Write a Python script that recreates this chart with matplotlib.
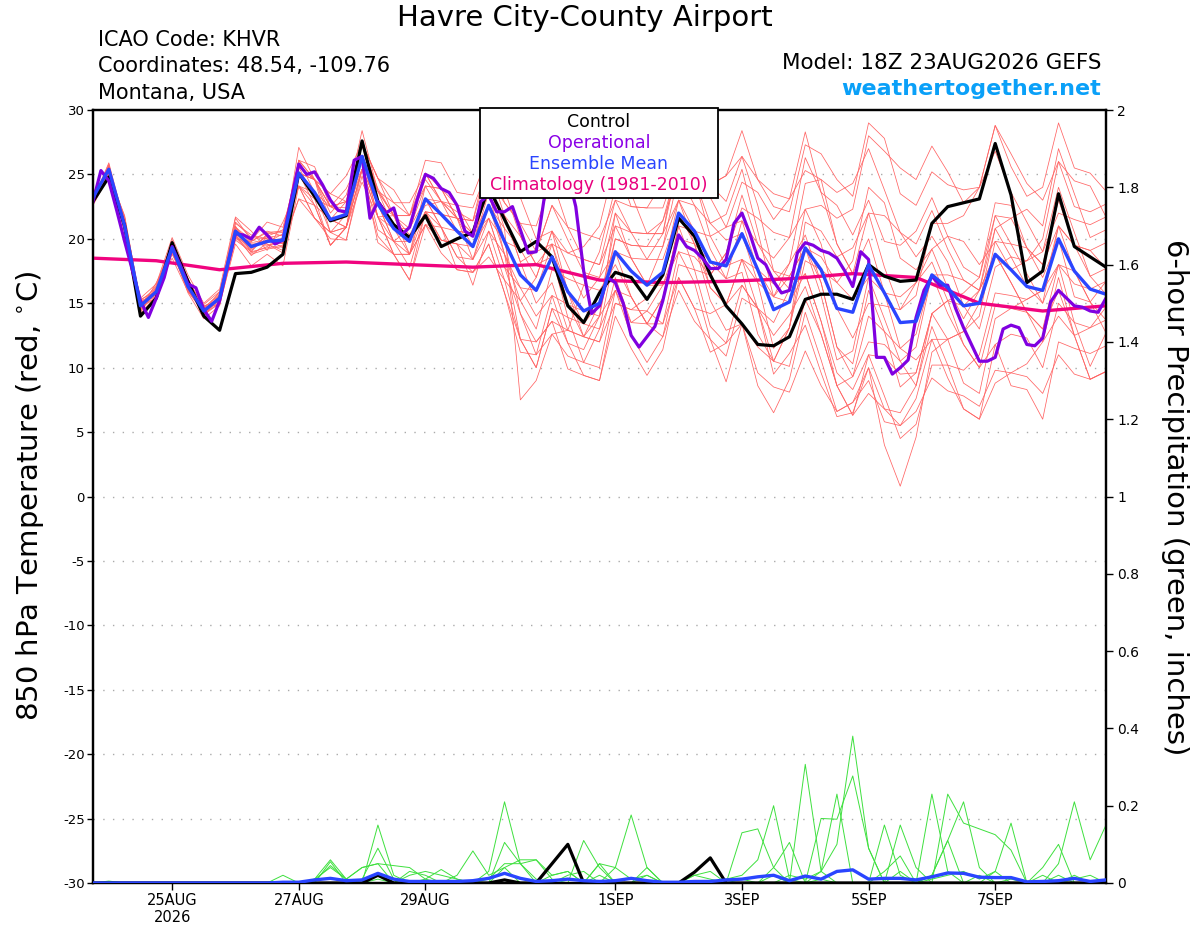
import matplotlib
matplotlib.use('Agg')
import matplotlib.pyplot as plt
import matplotlib.dates as mdates
from matplotlib.patches import Rectangle
import pandas as pd

plt.rcParams['font.family'] = ['DejaVu Sans']

# ---- data ----
run_start = '2026-08-23 18:00'
times = pd.date_range(run_start, periods=65, freq='6h')        # ensemble, 6-hourly
times_op = pd.date_range(run_start, periods=129, freq='3h')    # operational, 3-hourly
times_clim = pd.date_range(run_start, periods=17, freq='24h')  # climatology, daily

control = [22.9, 24.8, 21.0, 14.0, 15.4, 19.7, 16.7, 14.0, 12.9, 17.3, 17.4, 17.8, 18.8,
           25.1, 23.3, 21.4, 21.8, 27.6, 22.9, 21.1, 20.1, 21.8, 19.4, 20.0, 20.5, 24.0,
           21.5, 19.0, 19.8, 18.6, 14.8, 13.5, 15.8, 17.4, 17.0, 15.3, 17.2, 21.6, 20.2,
           17.2, 14.8, 13.4, 11.8, 11.7, 12.4, 15.3, 15.7, 15.7, 15.3, 18.0, 17.1, 16.7,
           16.8, 21.2, 22.5, 22.8, 23.1, 27.4, 23.4, 16.6, 17.5, 23.5, 19.4, 18.6, 17.8]

ens_mean = [23.2, 25.4, 21.0, 14.8, 15.9, 19.3, 16.3, 14.4, 15.4, 20.6, 19.4, 19.8, 19.9,
            25.1, 23.6, 21.5, 21.9, 26.4, 22.7, 20.8, 19.8, 23.1, 21.9, 20.6, 19.4, 22.6,
            19.8, 17.2, 16.0, 18.6, 15.9, 14.4, 15.0, 19.0, 17.5, 16.4, 17.4, 22.0, 20.6,
            18.2, 17.9, 20.4, 17.6, 14.5, 15.1, 19.3, 17.6, 14.6, 14.3, 18.0, 15.8, 13.5,
            13.6, 17.2, 16.2, 14.8, 15.0, 18.8, 17.6, 16.3, 16.0, 20.0, 17.5, 16.1, 15.7]

operational = [22.9, 25.3, 24.5, 22.2, 19.8, 17.5, 15.2, 13.9, 15.4, 17.0, 19.4, 18.0, 16.5,
               16.2, 14.5, 13.6, 15.2, 18.0, 20.4, 20.3, 20.0, 20.9, 20.3, 19.6, 19.9, 22.9,
               25.8, 25.0, 25.2, 24.2, 23.0, 22.2, 22.1, 26.1, 26.4, 21.6, 22.9, 22.0, 22.4,
               20.3, 20.9, 23.1, 25.0, 24.7, 23.9, 23.6, 22.6, 20.6, 20.2, 22.9, 23.4, 22.1,
               22.1, 22.5, 20.7, 18.9, 19.0, 23.1, 25.5, 26.0, 25.0, 22.5, 17.5, 14.2, 14.8,
               17.0, 16.6, 15.0, 12.5, 11.6, 12.4, 13.2, 15.2, 17.8, 20.3, 19.4, 19.1, 18.5,
               17.7, 17.7, 18.4, 21.2, 22.0, 20.4, 18.5, 18.0, 16.7, 15.8, 16.0, 18.9, 19.7,
               19.5, 19.1, 18.9, 18.5, 17.5, 16.3, 19.0, 18.4, 10.8, 10.8, 9.5, 10.0, 10.6,
               13.9, 16.0, 17.1, 16.4, 16.4, 14.6, 13.1, 11.8, 10.5, 10.5, 10.8, 13.0, 13.3,
               13.1, 11.8, 11.7, 12.3, 15.1, 16.0, 15.4, 14.8, 14.7, 14.4, 14.3, 15.4]

climatology = [18.5, 18.3, 17.6, 18.1, 18.2, 18.0, 17.8, 18.0, 16.8, 16.6, 16.7, 16.9,
               17.3, 17.0, 15.0, 14.4, 14.8]

members = [
    [23.5, 25.2, 21.5, 15.2, 15.6, 19.9, 16.5, 13.9, 15.7, 21.6, 19.9, 21.3, 20.9,
     25.6, 24.6, 22.0, 23.4, 27.2, 23.9, 21.8, 21.8, 24.6, 22.9, 21.6, 20.4, 24.6,
     22.8, 21.2, 19.0, 22.6, 20.9, 18.4, 18.0, 23.0, 22.5, 22.4, 22.4, 26.0, 25.6,
     24.2, 24.9, 26.4, 24.6, 22.5, 22.1, 27.3, 26.6, 24.6, 23.3, 29.0, 27.8, 23.5,
     22.6, 25.2, 24.2, 23.8, 24.0, 28.8, 25.6, 23.3, 24.0, 29.0, 25.5, 25.1, 23.7],
    [22.8, 25.7, 20.4, 14.3, 16.1, 18.5, 15.9, 14.7, 14.9, 19.6, 17.9, 18.8, 17.9,
     24.1, 21.6, 20.0, 19.9, 24.9, 20.2, 18.8, 16.8, 21.1, 18.9, 17.6, 17.4, 19.6,
     15.8, 12.2, 12.0, 13.6, 9.9, 9.4, 9.0, 14.0, 11.5, 9.4, 11.4, 17.0, 14.6,
     11.2, 11.9, 13.4, 9.6, 8.5, 8.1, 11.3, 8.6, 6.6, 7.3, 10.0, 6.8, 5.5,
     6.6, 9.2, 8.2, 7.8, 7.0, 9.8, 9.6, 9.3, 8.0, 11.0, 9.5, 9.1, 9.7],
    [23.0, 25.9, 21.2, 15.1, 15.5, 19.0, 16.8, 14.1, 15.0, 20.2, 19.0, 20.4, 20.5,
     25.6, 23.1, 22.5, 22.4, 27.4, 22.7, 21.8, 20.3, 22.6, 22.9, 22.1, 21.4, 25.6,
     21.8, 18.2, 15.0, 16.6, 12.9, 12.4, 15.0, 20.0, 19.5, 19.4, 19.4, 23.0, 20.6,
     16.2, 14.9, 16.4, 14.6, 9.5, 11.1, 13.3, 9.6, 6.2, 6.5, 10.0, 4.0, 0.8,
     4.6, 11.2, 12.2, 12.8, 14.0, 19.8, 19.6, 19.3, 18.0, 23.0, 19.5, 17.1, 15.7],
    [23.6, 25.0, 21.3, 14.6, 16.3, 19.6, 16.0, 14.6, 15.8, 21.2, 20.3, 20.0, 19.6,
     27.1, 24.6, 23.5, 24.9, 27.4, 24.7, 23.8, 21.8, 26.1, 25.9, 23.6, 23.4, 26.6,
     22.8, 21.2, 21.0, 24.6, 20.9, 20.4, 20.0, 23.0, 20.5, 18.4, 18.4, 22.0, 19.6,
     16.2, 14.9, 18.4, 14.6, 10.5, 10.1, 15.3, 12.6, 8.6, 9.3, 14.0, 12.8, 11.5,
     12.6, 17.2, 17.2, 16.8, 16.0, 18.8, 16.6, 14.3, 13.0, 18.0, 16.5, 16.1, 16.7],
    [22.9, 24.8, 20.6, 15.4, 16.5, 20.1, 17.2, 15.0, 16.1, 21.7, 20.6, 19.1, 21.3,
     24.1, 23.1, 19.5, 20.9, 26.4, 21.7, 18.8, 18.8, 24.1, 23.9, 21.6, 19.4, 24.6,
     20.8, 7.5, 9.0, 12.6, 12.9, 16.4, 19.0, 24.0, 23.5, 20.4, 20.4, 26.0, 25.6,
     24.2, 24.9, 28.4, 24.6, 23.5, 23.1, 28.3, 23.6, 19.6, 17.3, 20.0, 15.8, 11.5,
     10.6, 12.2, 12.2, 12.8, 15.0, 20.8, 21.6, 22.3, 21.0, 27.0, 23.5, 20.1, 20.7],
    [23.3, 25.6, 21.1, 14.5, 15.7, 19.1, 16.0, 14.2, 15.3, 20.1, 18.8, 19.2, 19.4,
     25.1, 24.6, 20.5, 19.9, 25.4, 19.7, 18.8, 18.8, 21.1, 20.9, 17.6, 17.4, 18.6,
     16.8, 15.2, 17.0, 20.6, 18.9, 18.4, 18.0, 21.0, 18.5, 16.4, 19.4, 25.0, 24.6,
     21.2, 21.9, 25.4, 20.6, 15.5, 15.1, 17.3, 13.6, 9.6, 8.3, 11.0, 7.8, 4.5,
     5.6, 10.2, 10.2, 9.8, 11.0, 15.8, 15.6, 15.3, 16.0, 21.0, 19.5, 19.1, 19.7],
    [23.1, 25.0, 21.8, 15.0, 16.0, 19.5, 16.6, 14.8, 15.2, 20.0, 19.8, 20.6, 20.2,
     26.1, 25.6, 22.5, 22.9, 27.4, 24.7, 21.8, 18.8, 22.1, 19.9, 19.6, 18.4, 22.6,
     18.8, 15.2, 13.0, 17.6, 16.9, 16.4, 16.0, 18.0, 15.5, 13.4, 13.4, 19.0, 18.6,
     17.2, 18.9, 22.4, 21.6, 20.5, 20.1, 22.3, 22.6, 21.6, 22.3, 28.0, 26.8, 25.5,
     24.6, 27.2, 25.2, 22.8, 24.0, 28.8, 26.6, 24.3, 23.0, 26.0, 22.5, 22.1, 22.7],
    [22.7, 25.3, 20.8, 14.9, 15.8, 19.2, 16.2, 14.0, 15.6, 20.9, 19.6, 19.5, 19.7,
     23.1, 22.6, 21.5, 22.9, 25.4, 22.7, 20.8, 20.8, 24.1, 21.9, 20.6, 20.4, 21.6,
     17.8, 14.2, 11.0, 12.6, 10.9, 10.4, 13.0, 19.0, 18.5, 16.4, 16.4, 19.0, 16.6,
     12.2, 8.9, 13.4, 11.6, 10.5, 13.1, 19.3, 18.6, 16.6, 15.3, 17.0, 13.8, 10.5,
     8.6, 13.2, 10.2, 6.8, 6.0, 8.8, 9.6, 10.3, 12.0, 17.0, 12.5, 9.1, 9.7],
    [23.4, 25.1, 20.9, 14.4, 16.2, 19.8, 16.7, 14.5, 15.5, 20.4, 19.1, 20.1, 20.3,
     26.1, 23.6, 22.5, 21.9, 25.4, 21.7, 20.8, 19.8, 23.1, 20.9, 20.6, 20.4, 23.6,
     21.8, 20.2, 18.0, 19.6, 18.9, 19.4, 21.0, 26.0, 22.5, 22.4, 24.4, 27.0, 26.6,
     23.2, 20.9, 21.4, 17.6, 16.5, 18.1, 20.3, 16.6, 11.6, 9.3, 12.0, 11.8, 10.5,
     11.6, 17.2, 14.2, 11.8, 10.0, 14.8, 14.6, 15.3, 16.0, 18.0, 13.5, 13.1, 14.7],
    [23.0, 25.5, 21.4, 14.7, 15.4, 18.9, 16.1, 14.3, 15.1, 20.8, 19.3, 19.9, 20.0,
     24.1, 23.6, 21.5, 20.9, 26.4, 23.7, 21.8, 19.8, 22.1, 21.9, 21.6, 18.4, 20.6,
     18.8, 16.2, 16.0, 19.6, 14.9, 12.4, 14.0, 20.0, 19.5, 19.4, 21.4, 25.0, 22.6,
     19.2, 16.9, 17.4, 12.6, 10.5, 13.1, 21.3, 20.6, 18.6, 19.3, 22.0, 21.8, 20.5,
     19.6, 22.2, 19.2, 16.8, 16.0, 18.8, 16.6, 14.3, 13.0, 16.0, 12.5, 13.1, 13.7],
    [23.1, 25.8, 20.7, 14.6, 16.0, 19.4, 16.4, 14.9, 15.9, 20.3, 19.7, 19.6, 18.9,
     25.1, 22.6, 19.5, 20.9, 24.4, 21.7, 19.8, 17.8, 22.1, 21.9, 21.6, 21.4, 23.6,
     21.8, 18.2, 19.0, 22.6, 19.9, 17.4, 17.0, 19.0, 15.5, 13.4, 15.4, 21.0, 17.6,
     13.2, 11.9, 16.4, 14.6, 12.5, 14.1, 16.3, 12.6, 8.6, 6.3, 11.0, 10.8, 9.5,
     9.6, 14.2, 12.2, 8.8, 8.0, 13.8, 14.6, 14.3, 12.0, 14.0, 12.5, 9.1, 9.7],
    [23.6, 25.3, 21.0, 15.3, 15.9, 19.0, 16.1, 14.4, 15.2, 20.5, 19.2, 20.3, 19.6,
     26.1, 24.6, 23.5, 22.9, 27.4, 24.7, 22.8, 22.8, 25.1, 23.9, 21.6, 21.4, 26.6,
     24.8, 23.2, 20.0, 20.6, 15.9, 13.4, 13.0, 16.0, 13.5, 13.4, 15.4, 21.0, 20.6,
     20.2, 20.9, 24.4, 23.6, 21.5, 23.1, 25.3, 24.6, 23.6, 24.3, 27.0, 23.8, 20.5,
     18.6, 20.2, 18.2, 14.8, 13.0, 17.8, 18.6, 18.3, 20.0, 26.0, 24.5, 24.1, 21.7],
    [22.6, 24.9, 21.2, 14.9, 16.4, 19.7, 16.9, 14.6, 15.4, 21.0, 18.9, 19.4, 20.1,
     24.1, 21.6, 20.5, 21.9, 26.4, 21.7, 18.8, 16.8, 22.1, 19.9, 19.6, 16.4, 20.6,
     16.8, 12.2, 10.0, 14.6, 13.9, 13.4, 15.0, 21.0, 20.5, 20.4, 20.4, 23.0, 19.6,
     15.2, 12.9, 13.4, 8.6, 6.5, 9.1, 14.3, 10.6, 6.6, 7.3, 9.0, 5.8, 5.5,
     7.6, 12.2, 9.2, 6.8, 6.0, 11.8, 12.6, 12.3, 10.0, 15.0, 13.5, 10.1, 12.7],
    [23.2, 25.4, 21.6, 15.0, 15.3, 19.5, 16.3, 14.2, 15.0, 20.6, 19.5, 19.9, 19.9,
     25.1, 24.6, 21.5, 20.9, 27.4, 22.7, 19.8, 20.8, 25.1, 22.9, 20.6, 19.4, 23.6,
     18.8, 12.2, 10.0, 14.6, 11.9, 11.4, 14.0, 22.0, 18.5, 18.4, 20.4, 27.0, 24.6,
     20.2, 17.9, 18.4, 16.6, 15.5, 18.1, 24.3, 24.6, 19.6, 17.3, 22.0, 17.8, 14.5,
     15.6, 21.2, 21.2, 21.8, 24.0, 26.8, 23.6, 21.3, 19.0, 22.0, 21.5, 21.1, 21.7],
    [22.8, 25.6, 20.5, 14.5, 16.6, 19.1, 15.8, 13.8, 14.8, 19.9, 19.0, 19.3, 19.5,
     23.1, 21.6, 20.5, 20.9, 25.4, 20.7, 19.8, 19.8, 22.1, 20.9, 18.6, 18.4, 21.6,
     17.8, 16.2, 14.0, 15.6, 11.9, 9.4, 9.0, 15.0, 14.5, 14.4, 13.4, 17.0, 14.6,
     14.2, 14.9, 18.4, 17.6, 15.5, 17.1, 19.3, 15.6, 10.6, 11.3, 17.0, 15.8, 15.5,
     16.6, 18.2, 15.2, 11.8, 10.0, 11.8, 8.6, 8.3, 6.0, 12.0, 11.5, 11.1, 11.7],
    [23.5, 25.0, 21.7, 15.1, 15.8, 19.6, 16.6, 14.7, 15.6, 20.7, 19.8, 20.5, 20.6,
     26.1, 24.6, 22.5, 23.9, 26.4, 23.7, 21.8, 21.8, 24.1, 23.9, 22.6, 22.4, 25.6,
     23.8, 20.2, 18.0, 18.6, 13.9, 10.4, 10.0, 16.0, 15.5, 13.4, 12.4, 18.0, 17.6,
     17.2, 18.9, 23.4, 19.6, 18.5, 20.1, 26.3, 23.6, 22.6, 20.3, 23.0, 19.8, 19.5,
     20.6, 23.2, 20.2, 17.8, 17.0, 21.8, 21.6, 19.3, 18.0, 21.0, 17.5, 15.1, 13.7],
    [22.9, 25.7, 20.9, 14.2, 15.6, 19.3, 16.9, 14.5, 15.3, 20.3, 18.7, 19.7, 20.4,
     25.1, 23.6, 20.5, 20.9, 25.4, 21.7, 21.8, 20.8, 23.1, 20.9, 18.6, 17.4, 19.6,
     15.8, 11.2, 11.0, 15.6, 14.9, 14.4, 14.0, 16.0, 12.5, 10.4, 12.4, 16.0, 13.6,
     12.2, 10.9, 15.4, 14.6, 13.5, 16.1, 22.3, 19.6, 14.6, 12.3, 15.0, 14.8, 14.5,
     16.6, 19.2, 20.2, 19.8, 18.0, 19.8, 17.6, 18.3, 19.0, 24.0, 20.5, 17.1, 17.7],
    [23.3, 25.2, 21.2, 14.8, 16.1, 19.4, 16.2, 14.1, 15.7, 20.9, 19.9, 19.6, 19.1,
     25.6, 24.6, 22.5, 21.9, 27.4, 23.7, 20.8, 18.8, 23.1, 22.9, 22.6, 20.4, 22.6,
     20.8, 19.2, 17.0, 20.6, 17.9, 15.4, 17.0, 22.0, 20.5, 20.4, 21.4, 26.0, 25.6,
     24.2, 22.9, 26.4, 22.6, 17.5, 17.1, 19.3, 16.6, 11.6, 10.3, 16.0, 12.8, 8.5,
     9.6, 14.2, 15.2, 14.8, 16.0, 20.8, 18.6, 16.3, 15.0, 21.0, 19.5, 19.1, 17.7],
    [23.0, 25.1, 20.6, 15.2, 16.2, 19.8, 15.9, 14.3, 15.9, 20.2, 19.3, 20.2, 20.7,
     24.1, 22.6, 19.5, 20.9, 25.4, 22.7, 19.8, 18.8, 21.1, 19.9, 19.6, 19.4, 21.6,
     19.8, 19.2, 19.0, 19.6, 15.9, 12.4, 12.0, 17.0, 13.5, 14.4, 16.4, 20.0, 19.6,
     18.2, 16.9, 21.4, 19.6, 17.5, 16.1, 17.3, 13.6, 8.6, 6.3, 8.0, 6.8, 6.5,
     8.6, 14.2, 15.2, 15.8, 17.0, 22.8, 22.6, 19.3, 17.0, 20.0, 15.5, 15.1, 16.7],
    [23.4, 25.5, 21.3, 14.9, 15.7, 18.8, 16.4, 14.8, 15.1, 21.3, 20.1, 20.0, 19.3,
     25.1, 24.6, 22.5, 22.9, 28.4, 23.7, 22.8, 21.8, 25.1, 22.9, 21.6, 20.4, 24.6,
     19.8, 14.2, 12.0, 13.6, 12.9, 12.4, 12.0, 15.0, 14.5, 15.4, 17.4, 23.0, 22.6,
     21.2, 19.9, 20.4, 16.6, 11.5, 13.1, 18.3, 17.6, 16.6, 18.3, 24.0, 22.8, 18.5,
     17.6, 19.2, 16.2, 13.8, 16.0, 21.8, 19.6, 17.3, 15.0, 18.0, 17.5, 15.1, 12.7],
]

control_precip = [0, 0, 0, 0, 0, 0, 0, 0, 0, 0, 0, 0, 0,
                  0, 0, 0, 0, 0, 0.02, 0, 0, 0, 0, 0, 0, 0,
                  0.008, 0, 0, 0.05, 0.10, 0, 0, 0, 0, 0, 0, 0, 0.028,
                  0.065, 0, 0, 0, 0, 0, 0, 0, 0, 0, 0, 0, 0,
                  0, 0, 0, 0, 0, 0, 0, 0, 0, 0, 0, 0, 0]

mean_precip = [0, 0, 0, 0, 0, 0, 0, 0, 0, 0, 0, 0, 0.002,
               0.002, 0.008, 0.012, 0.006, 0.008, 0.025, 0.01, 0.004, 0.004, 0.004, 0.004, 0.006, 0.012,
               0.025, 0.012, 0.004, 0.006, 0.01, 0.006, 0.004, 0.006, 0.012, 0.006, 0.002, 0.002, 0.004,
               0.004, 0.008, 0.01, 0.016, 0.02, 0.006, 0.018, 0.01, 0.03, 0.034, 0.01, 0.012, 0.012,
               0.008, 0.016, 0.026, 0.025, 0.015, 0.014, 0.014, 0.003, 0.004, 0.006, 0.012, 0.004, 0.008]

member_precip = [
    [0, 0, 0, 0, 0, 0, 0, 0, 0, 0, 0, 0, 0,
     0, 0.01, 0.06, 0.01, 0, 0.15, 0.02, 0, 0, 0, 0, 0, 0.03,
     0.21, 0.05, 0.01, 0, 0, 0.11, 0.04, 0, 0, 0, 0, 0, 0,
     0, 0.01, 0.02, 0.06, 0.20, 0.01, 0, 0.03, 0.10, 0.38, 0.09, 0, 0,
     0, 0.02, 0.11, 0.21, 0.04, 0, 0.01, 0, 0, 0.05, 0.21, 0.06, 0.15],
    [0, 0, 0, 0, 0, 0, 0, 0, 0, 0, 0, 0, 0,
     0, 0, 0.055, 0, 0.01, 0.09, 0.01, 0, 0.01, 0, 0.02, 0.083, 0.02,
     0.04, 0.06, 0.06, 0.01, 0, 0, 0.05, 0.04, 0.176, 0.04, 0, 0, 0,
     0, 0, 0.13, 0.14, 0.04, 0, 0.307, 0.03, 0, 0, 0, 0.15, 0.02,
     0, 0.23, 0.03, 0, 0, 0.03, 0.155, 0, 0, 0, 0.02, 0, 0],
    [0, 0, 0, 0, 0, 0, 0, 0, 0, 0, 0, 0, 0.02,
     0, 0.01, 0.04, 0.01, 0.04, 0.05, 0.045, 0.04, 0.01, 0.035, 0.01, 0, 0,
     0.105, 0.05, 0.06, 0.02, 0.03, 0, 0.05, 0, 0, 0.02, 0, 0, 0.02,
     0.03, 0, 0, 0, 0.04, 0.105, 0, 0.167, 0.165, 0.277, 0.09, 0, 0.15,
     0.04, 0, 0.23, 0.155, 0.14, 0.125, 0.085, 0, 0.04, 0.10, 0, 0, 0],
    [0, 0, 0, 0, 0, 0, 0, 0, 0, 0, 0, 0, 0,
     0, 0.005, 0.045, 0.01, 0.04, 0.05, 0, 0.02, 0.03, 0.02, 0.01, 0, 0.01,
     0.05, 0.05, 0, 0, 0.02, 0.03, 0, 0.04, 0.01, 0.02, 0, 0, 0.02,
     0.01, 0, 0.01, 0, 0, 0.02, 0.01, 0.03, 0.23, 0, 0, 0.03, 0.07,
     0, 0.01, 0.02, 0.03, 0.01, 0.03, 0, 0, 0.02, 0, 0.01, 0.02, 0],
    [0, 0.005, 0, 0, 0, 0, 0, 0, 0, 0, 0, 0, 0,
     0, 0, 0, 0, 0, 0.01, 0, 0.03, 0.02, 0, 0, 0, 0,
     0.04, 0, 0, 0.02, 0.03, 0, 0.02, 0, 0, 0.04, 0, 0, 0,
     0, 0, 0, 0, 0.02, 0, 0, 0.01, 0, 0, 0, 0, 0.03,
     0, 0.02, 0.11, 0, 0.02, 0, 0, 0, 0, 0.02, 0, 0, 0],
]

tick_dates = ['2026-08-25', '2026-08-27', '2026-08-29', '2026-09-01',
              '2026-09-03', '2026-09-05', '2026-09-07']
tick_labels = ['25AUG\n2026', '27AUG', '29AUG', '1SEP', '3SEP', '5SEP', '7SEP']
temp_ticks = list(range(-30, 31, 5))
precip_ticks = [0, 0.2, 0.4, 0.6, 0.8, 1.0, 1.2, 1.4, 1.6, 1.8, 2.0]
precip_labels = ['0', '0.2', '0.4', '0.6', '0.8', '1', '1.2', '1.4', '1.6', '1.8', '2']

# ---- figure ----
W, H = 1200, 927
fig = plt.figure(figsize=(W / 100, H / 100), dpi=100)
fig.set_facecolor('white')

# plot box: x 93..1106, y 110..883 in pixels
ax = fig.add_axes([93 / W, 1 - 883 / H, 1013 / W, 773 / H])
ax2 = ax.twinx()

x = mdates.date2num(times.to_pydatetime())
x_op = mdates.date2num(times_op.to_pydatetime())
x_clim = mdates.date2num(times_clim.to_pydatetime())

# temperature ensemble
for m in members:
    ax.plot(x, m, color='#ff6464', lw=0.55, zorder=2)
ax.plot(x_clim, climatology, color='#f0047f', lw=2.4, zorder=3)
ax.plot(x, control, color='black', lw=2.3, zorder=4)
ax.plot(x_op, operational, color='#8000e0', lw=2.3, zorder=5)
ax.plot(x, ens_mean, color='#2a45ff', lw=2.4, zorder=6)

ax.set_xlim(x[0], x[-1])
ax.set_ylim(-30, 30)
ax.set_yticks(temp_ticks)
ax.set_yticklabels([str(t) for t in temp_ticks])
for t in temp_ticks[1:-1]:
    ax.axhline(t, color='#aaaaaa', lw=1.0, ls=(0, (1, 6)), zorder=1)

ax.set_xticks(mdates.date2num(pd.to_datetime(tick_dates).to_pydatetime()))
ax.set_xticklabels(tick_labels)
ax.tick_params(axis='x', direction='out', length=5, width=1, pad=2, labelsize=10.5)
ax.tick_params(axis='y', direction='out', length=4, width=1, pad=2, labelsize=9.5)

# precipitation
for p in member_precip:
    ax2.plot(x, p, color='#3ee03e', lw=0.7, zorder=2)
ax2.plot(x, control_precip, color='black', lw=2.3, zorder=3)
ax2.plot(x, mean_precip, color='#2a45ff', lw=2.4, zorder=4)
ax2.set_ylim(0, 2)
ax2.set_yticks(precip_ticks)
ax2.set_yticklabels(precip_labels)
ax2.tick_params(axis='y', direction='out', length=5, width=1, pad=3, labelsize=10)

for a in (ax, ax2):
    for s in a.spines.values():
        s.set_linewidth(1.6)

# legend box on top of everything
ax2.add_patch(Rectangle((0.382, 0.886), 0.235, 0.116, transform=ax2.transAxes,
                        facecolor='white', edgecolor='black', lw=1.3,
                        zorder=10, clip_on=False))
legend_items = [('Control', 'black'), ('Operational', '#8a00e6'),
                ('Ensemble Mean', '#2a45ff'), ('Climatology (1981-2010)', '#e8007d')]
for k, (label, col) in enumerate(legend_items):
    ax2.text(0.4995, 0.985 - k * 0.0275, label, color=col, fontsize=12.5,
             ha='center', va='center', transform=ax2.transAxes, zorder=11)

# axis titles
fig.text(30 / W, 1 - 496 / H, '850 hPa Temperature (red, $^{\\circ}$C)',
         rotation=90, ha='center', va='center', fontsize=21)
fig.text(1175 / W, 1 - 497 / H, '6-hour Precipitation (green, inches)',
         rotation=-90, ha='center', va='center', fontsize=21)

# header texts
fig.text(585 / W, 1 - 18 / H, 'Havre City-County Airport', ha='center', va='center', fontsize=21)
fig.text(98 / W, 1 - 40 / H, 'ICAO Code: KHVR', ha='left', va='center', fontsize=15)
fig.text(98 / W, 1 - 66 / H, 'Coordinates: 48.54, -109.76', ha='left', va='center', fontsize=15)
fig.text(98 / W, 1 - 93 / H, 'Montana, USA', ha='left', va='center', fontsize=15)
fig.text(1101 / W, 1 - 63 / H, 'Model: 18Z 23AUG2026 GEFS', ha='right', va='center', fontsize=15.5)
fig.text(1101 / W, 1 - 89 / H, 'weathertogether.net', ha='right', va='center',
         fontsize=16, fontweight='bold', color='#0aa0f8')

fig.savefig('out.png', dpi=100)
